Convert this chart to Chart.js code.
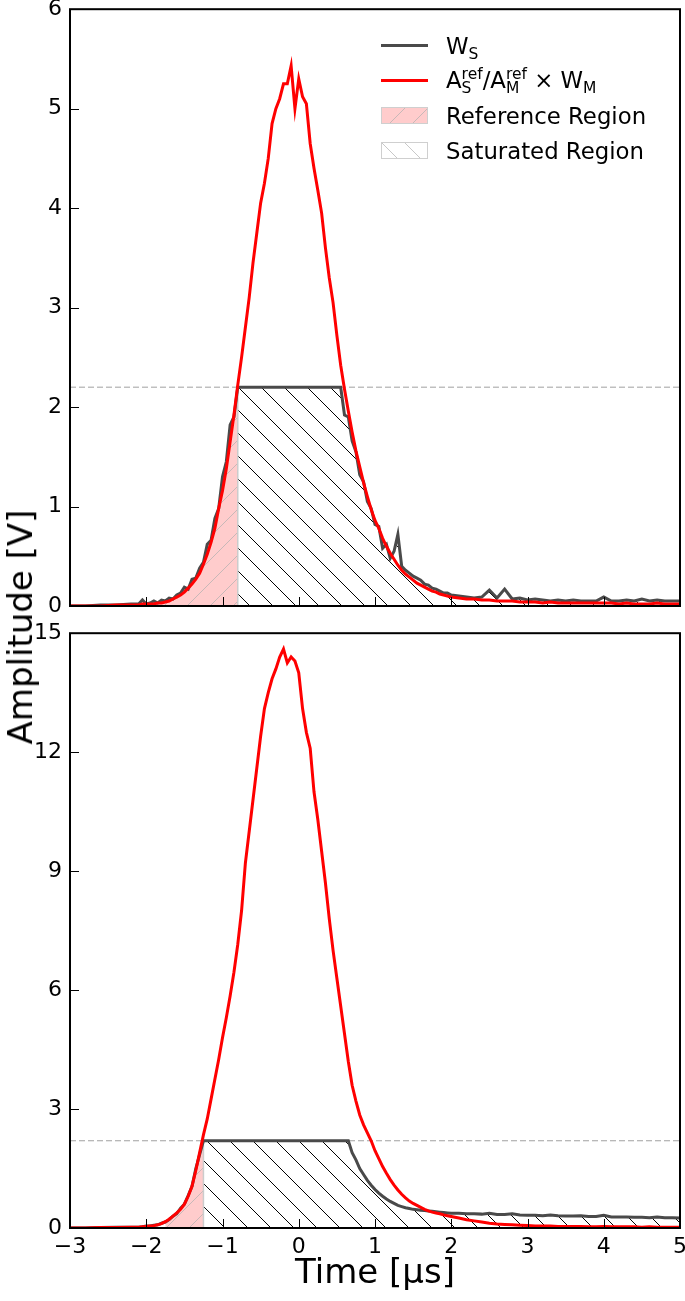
<!DOCTYPE html>
<html>
<head>
<meta charset="utf-8">
<script src="https://cdn.jsdelivr.net/npm/chart.js@4/dist/chart.umd.min.js"></script>
<style>
  body { margin: 0; width: 685px; height: 1301px; overflow: hidden; background: #fff; position: relative;
         font-family: 'DejaVu Sans', sans-serif; color: #000; }
  .panel { position: absolute; left: 0; width: 700px; }
  #topWrap { top: -12px; height: 640px; }
  #botWrap { top: 612px; height: 689px; }
  #ylabel { position: absolute; left: 20px; top: 627px; font-size: 34px; white-space: nowrap;
            transform: translate(-50%, -50%) rotate(-90deg); }
  #legend { position: absolute; left: 381px; top: 28px; font-size: 22.8px; z-index: 2; }
  .row { display: flex; align-items: center; height: 35px; }
  .sw { width: 47px; margin-right: 18px; flex: none; }
  .sw.line { height: 3px; }
  .sw.patch { height: 17px; box-sizing: border-box; border: 1px solid #cfcfcf; }
  sub { font-size: 15.5px; vertical-align: -5px; line-height: 0; }
  .stk { display: inline-block; font-size: 15.5px; line-height: 14px; vertical-align: -5px; }
  .stk span { display: block; }
</style>
</head>
<body>
<div id="topWrap" class="panel"><canvas id="topChart"></canvas></div>
<div id="botWrap" class="panel"><canvas id="botChart"></canvas></div>
<div id="ylabel">Amplitude [V]</div>
<div id="legend">
  <div class="row"><span class="sw line" style="background:#4a4a4a"></span><span>W<sub>S</sub></span></div>
  <div class="row"><span class="sw line" style="background:#ff0000"></span>
    <span>A<span class="stk"><span>ref</span><span>S</span></span>/A<span class="stk"><span>ref</span><span>M</span></span> × W<sub>M</sub></span></div>
  <div class="row"><span class="sw patch" id="swRef"></span><span>Reference Region</span></div>
  <div class="row"><span class="sw patch" id="swSat"></span><span>Saturated Region</span></div>
</div>
<script>
// ─── Data ─────────────────────────────────────────────────────────────────────
const time = [
  -3.0, -2.8, -2.6, -2.4, -2.2,
  -2.1, -2.05, -2.0, -1.95, -1.9, -1.85, -1.8, -1.75, -1.7, -1.65,
  -1.6, -1.55, -1.5, -1.45, -1.4, -1.35, -1.3, -1.25, -1.2, -1.15,
  -1.1, -1.05, -1.0, -0.95, -0.9, -0.85, -0.8, -0.75, -0.7, -0.65,
  -0.6, -0.55, -0.5, -0.45, -0.4, -0.35, -0.3, -0.25, -0.2, -0.15,
  -0.1, -0.05, 0.0, 0.05, 0.1, 0.15, 0.2, 0.25, 0.3, 0.35,
  0.4, 0.45, 0.5, 0.55, 0.6, 0.65, 0.7, 0.75, 0.8, 0.85,
  0.9, 0.95, 1.0, 1.05, 1.1, 1.15, 1.2, 1.25, 1.3, 1.35,
  1.4, 1.45, 1.5, 1.55, 1.6, 1.65, 1.7, 1.75, 1.8, 1.85,
  1.9, 1.95, 2.0,
  2.1, 2.2, 2.3, 2.4, 2.5, 2.6, 2.7, 2.8, 2.9, 3.0,
  3.1, 3.2, 3.3, 3.4, 3.5, 3.6, 3.7, 3.8, 3.9, 4.0,
  4.1, 4.2, 4.3, 4.4, 4.5, 4.6, 4.7, 4.8, 4.9, 5.0
];

// top panel: saturated signal W_S and rescaled reference A_S/A_M x W_M
const topWs = [
  0.00, 0.00, 0.01, 0.01, 0.02,
  0.02, 0.06, 0.02, 0.03, 0.05, 0.03, 0.06, 0.05, 0.08, 0.07,
  0.11, 0.13, 0.19, 0.17, 0.27, 0.28, 0.38, 0.44, 0.62, 0.66,
  0.88, 0.98, 1.30, 1.45, 1.82, 1.90, 2.20, 2.20, 2.20, 2.20,
  2.20, 2.20, 2.20, 2.20, 2.20, 2.20, 2.20, 2.20, 2.20, 2.20,
  2.20, 2.20, 2.20, 2.20, 2.20, 2.20, 2.20, 2.20, 2.20, 2.20,
  2.20, 2.20, 2.20, 2.20, 1.92, 1.90, 1.66, 1.55, 1.32, 1.25,
  1.05, 0.98, 0.82, 0.80, 0.58, 0.62, 0.48, 0.55, 0.72, 0.40,
  0.36, 0.33, 0.30, 0.28, 0.26, 0.22, 0.21, 0.18, 0.17, 0.15,
  0.13, 0.13, 0.11,
  0.10, 0.09, 0.08, 0.09, 0.16, 0.08, 0.17, 0.07, 0.08, 0.06,
  0.07, 0.06, 0.05, 0.06, 0.05, 0.06, 0.05, 0.05, 0.05, 0.09,
  0.05, 0.05, 0.06, 0.05, 0.07, 0.05, 0.06, 0.05, 0.05, 0.05
];
const topRef = [
  0.00, 0.00, 0.00, 0.01, 0.01,
  0.01, 0.02, 0.02, 0.02, 0.02, 0.03, 0.03, 0.04, 0.05, 0.07,
  0.09, 0.11, 0.14, 0.18, 0.22, 0.27, 0.33, 0.42, 0.52, 0.64,
  0.78, 0.98, 1.16, 1.38, 1.65, 1.92, 2.22, 2.50, 2.80, 3.10,
  3.45, 3.75, 4.05, 4.25, 4.50, 4.85, 5.00, 5.10, 5.25, 5.25,
  5.43, 5.00, 5.30, 5.12, 5.05, 4.65, 4.40, 4.18, 3.95, 3.60,
  3.30, 3.05, 2.72, 2.42, 2.18, 1.96, 1.75, 1.56, 1.40, 1.24,
  1.10, 0.97, 0.86, 0.78, 0.68, 0.60, 0.53, 0.47, 0.41, 0.36,
  0.32, 0.29, 0.26, 0.23, 0.21, 0.19, 0.17, 0.15, 0.14, 0.12,
  0.11, 0.10, 0.09,
  0.08, 0.07, 0.07, 0.06, 0.06, 0.05, 0.05, 0.05, 0.04, 0.04,
  0.04, 0.03, 0.04, 0.03, 0.03, 0.03, 0.03, 0.03, 0.03, 0.03,
  0.03, 0.02, 0.03, 0.02, 0.02, 0.02, 0.03, 0.02, 0.02, 0.02
];

// bottom panel
const botWs = [
  0.00, 0.00, 0.01, 0.02, 0.02,
  0.02, 0.03, 0.05, 0.05, 0.07, 0.08, 0.12, 0.15, 0.21, 0.30,
  0.36, 0.50, 0.60, 0.82, 1.05, 1.50, 1.85, 2.20, 2.20, 2.20,
  2.20, 2.20, 2.20, 2.20, 2.20, 2.20, 2.20, 2.20, 2.20, 2.20,
  2.20, 2.20, 2.20, 2.20, 2.20, 2.20, 2.20, 2.20, 2.20, 2.20,
  2.20, 2.20, 2.20, 2.20, 2.20, 2.20, 2.20, 2.20, 2.20, 2.20,
  2.20, 2.20, 2.20, 2.20, 2.20, 2.20, 1.90, 1.72, 1.50, 1.35,
  1.20, 1.08, 0.97, 0.88, 0.80, 0.73, 0.67, 0.62, 0.57, 0.54,
  0.51, 0.49, 0.47, 0.46, 0.45, 0.44, 0.43, 0.42, 0.41, 0.40,
  0.39, 0.38, 0.37,
  0.37, 0.36, 0.36, 0.35, 0.37, 0.34, 0.34, 0.36, 0.33, 0.32,
  0.32, 0.31, 0.33, 0.31, 0.30, 0.30, 0.31, 0.29, 0.29, 0.32,
  0.28, 0.28, 0.28, 0.27, 0.27, 0.26, 0.28, 0.26, 0.26, 0.25
];
const botRef = [
  0.00, 0.00, 0.01, 0.01, 0.02,
  0.02, 0.03, 0.04, 0.05, 0.06, 0.08, 0.11, 0.16, 0.22, 0.30,
  0.38, 0.47, 0.60, 0.80, 1.05, 1.45, 1.90, 2.35, 2.75, 3.25,
  3.75, 4.25, 4.80, 5.30, 5.85, 6.45, 7.15, 8.00, 9.20, 10.0,
  10.8, 11.6, 12.4, 13.1, 13.5, 13.85, 14.1, 14.4, 14.6, 14.25,
  14.4, 14.3, 14.0, 13.1, 12.5, 12.1, 11.0, 10.3, 9.50, 8.70,
  7.80, 7.00, 6.30, 5.60, 4.90, 4.20, 3.60, 3.20, 2.85, 2.60,
  2.40, 2.20, 1.95, 1.75, 1.55, 1.38, 1.22, 1.08, 0.96, 0.85,
  0.76, 0.68, 0.62, 0.57, 0.52, 0.47, 0.43, 0.40, 0.38, 0.36,
  0.33, 0.31, 0.29,
  0.25, 0.21, 0.18, 0.15, 0.12, 0.10, 0.09, 0.08, 0.07, 0.06,
  0.05, 0.05, 0.05, 0.04, 0.04, 0.04, 0.04, 0.03, 0.03, 0.04,
  0.03, 0.03, 0.03, 0.03, 0.02, 0.03, 0.02, 0.02, 0.02, 0.02
];

const satLevel = 2.2;                 // saturation threshold [V]
const timeRange = [-3, 5];
const refStart = { top: -1.85, bot: -1.75 };
const satStart = { top: -0.8,  bot: -1.25 };
const topYTicks = { max: 6,  step: 1 };
const botYTicks = { max: 15, step: 3 };

// ─── Helpers ──────────────────────────────────────────────────────────────────
Chart.defaults.font.family = "'DejaVu Sans', sans-serif";
Chart.defaults.color = '#000';
Chart.defaults.animation = false;

function hatchCanvas(bg, color, dir, size) {
  const c = document.createElement('canvas');
  c.width = c.height = size;
  const g = c.getContext('2d');
  if (bg) { g.fillStyle = bg; g.fillRect(0, 0, size, size); }
  g.strokeStyle = color; g.lineWidth = 1;
  g.beginPath();
  for (let k = -1; k <= 1; k++) {
    if (dir === 'back') { g.moveTo(k * size, 0); g.lineTo(k * size + size, size); }
    else { g.moveTo(k * size, size); g.lineTo(k * size + size, 0); }
  }
  g.stroke();
  return c;
}

const refTile = hatchCanvas('#ffcccc', 'rgba(175,175,175,0.7)', 'fwd', 23);
const satTile = hatchCanvas(null, '#000', 'back', 23);
document.getElementById('swRef').style.background = `url(${hatchCanvas('#ffcccc', 'rgba(175,175,175,0.7)', 'fwd', 23).toDataURL()})`;
document.getElementById('swSat').style.background = `url(${hatchCanvas('#fff', '#c8c8c8', 'back', 23).toDataURL()})`;

const series = ys => time.map((t, i) => ({ x: t, y: ys[i] }));
const within = (ys, a, b) => series(ys).filter(p => p.x >= a && p.x <= b + 1e-9);
const minus = v => String(v).replace('-', '\u2212');

// inward ticks + box frame
const framePlugin = {
  id: 'frame',
  afterDatasetsDraw(chart) {
    const { ctx, chartArea: a, scales: { x, y } } = chart;
    ctx.save();
    ctx.strokeStyle = '#000';
    ctx.lineWidth = 1;
    ctx.beginPath();
    x.ticks.forEach(t => {
      const px = Math.round(x.getPixelForValue(t.value)) + 0.5;
      ctx.moveTo(px, a.bottom); ctx.lineTo(px, a.bottom - 9);
    });
    y.ticks.forEach(t => {
      const py = Math.round(y.getPixelForValue(t.value)) + 0.5;
      ctx.moveTo(a.left, py); ctx.lineTo(a.left + 9, py);
    });
    ctx.stroke();
    ctx.lineWidth = 2;
    ctx.strokeRect(a.left, a.top, a.right - a.left, a.bottom - a.top);
    ctx.restore();
  }
};

function buildChart(id, ws, ref, key, yt, isBottom) {
  const ctx = document.getElementById(id).getContext('2d');
  const refPattern = ctx.createPattern(refTile, 'repeat');
  const satPattern = ctx.createPattern(satTile, 'repeat');
  const line = { pointRadius: 0, tension: 0, fill: false };

  return new Chart(ctx, {
    type: 'line',
    data: {
      datasets: [
        { ...line, data: series(ref), borderColor: '#ff0000', borderWidth: 3, order: 0 },
        { ...line, data: series(ws), borderColor: '#4a4a4a', borderWidth: 3, order: 1 },
        { ...line, data: [{ x: timeRange[0], y: satLevel }, { x: timeRange[1], y: satLevel }],
          borderColor: '#a0a0a0', borderWidth: 1, borderDash: [6, 3], order: 2 },
        { ...line, data: [{ x: satStart[key], y: 0 }, { x: satStart[key], y: satLevel }],
          borderColor: '#cccccc', borderWidth: 1.5, order: 3 },
        { pointRadius: 0, tension: 0, data: within(ws, refStart[key], satStart[key]),
          borderWidth: 0, backgroundColor: refPattern, fill: 'origin', order: 4 },
        { pointRadius: 0, tension: 0, data: within(ws, satStart[key], timeRange[1]),
          borderWidth: 0, backgroundColor: satPattern, fill: 'origin', order: 5 }
      ]
    },
    options: {
      responsive: true,
      maintainAspectRatio: false,
      layout: { padding: isBottom ? { top: 18, right: 20, bottom: 6, left: 0 }
                                  : { top: 20, right: 20, bottom: 22, left: 0 } },
      plugins: { legend: { display: false }, tooltip: { enabled: false } },
      scales: {
        x: {
          type: 'linear', min: timeRange[0], max: timeRange[1],
          grid: { display: false, drawTicks: false }, border: { display: false },
          ticks: { display: isBottom, stepSize: 1, padding: 6, font: { size: 22 }, callback: minus },
          title: { display: isBottom, text: 'Time [μs]', font: { size: 34 }, padding: { top: 0, bottom: 0 } },
          afterFit: s => { if (isBottom) s.height = 67; }
        },
        y: {
          min: 0, max: yt.max,
          grid: { display: false, drawTicks: false }, border: { display: false },
          ticks: { stepSize: yt.step, padding: 8, font: { size: 22 } },
          afterFit: s => { s.width = 70; }
        }
      }
    },
    plugins: [framePlugin]
  });
}

buildChart('topChart', topWs, topRef, 'top', topYTicks, false);
buildChart('botChart', botWs, botRef, 'bot', botYTicks, true);
</script>
</body>
</html>
